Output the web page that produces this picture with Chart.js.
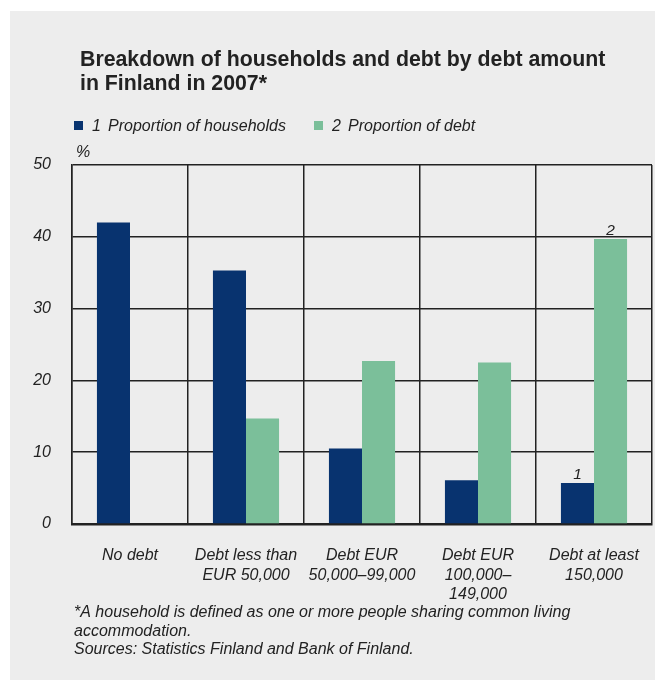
<!DOCTYPE html>
<html>
<head>
<meta charset="utf-8">
<script src="https://cdn.jsdelivr.net/npm/chart.js@4.4.1/dist/chart.umd.min.js"></script>
<style>
  html, body { margin: 0; padding: 0; background: #fff; }
  canvas { display: block; }
</style>
</head>
<body>
<canvas id="debtChart" width="655" height="681"></canvas>
<script>
// 資料
const categories = [
  ["No debt"],
  ["Debt less than", "EUR 50,000"],
  ["Debt EUR", "50,000–99,000"],
  ["Debt EUR", "100,000–", "149,000"],
  ["Debt at least", "150,000"]
];
const households = [42, 35.3, 10.5, 6.1, 5.7];   // 1 Proportion of households
const debtShare = [null, 14.7, 22.7, 22.5, 39.7]; // 2 Proportion of debt
const yTicks = [0, 10, 20, 30, 40, 50];
const titleLines = ["Breakdown of households and debt by debt amount", "in Finland in 2007*"];
const legendLabels = ["Proportion of households", "Proportion of debt"];
const footnotes = [
  "*A household is defined as one or more people sharing common living",
  "accommodation.",
  "Sources: Statistics Finland and Bank of Finland."
];

const BLUE = "#08336f";
const GREEN = "#7bbf9a";
const INK = "#222222";
const FONT = "'Liberation Sans', Arial, Helvetica, sans-serif";

/**
 * 背景、標題、圖例、註腳
 */
const decor = {
  id: "decor",
  beforeDraw(chart) {
    const ctx = chart.ctx;
    ctx.save();
    ctx.fillStyle = "#ffffff";
    ctx.fillRect(0, 0, chart.width, chart.height);
    ctx.fillStyle = "#ededed";
    ctx.fillRect(10, 11, chart.width - 10, 669);
    ctx.restore();
  },
  afterDatasetsDraw(chart) {
    const ctx = chart.ctx;
    ctx.save();
    ctx.fillStyle = INK;
    ctx.font = "italic 15.5px " + FONT;
    ctx.textAlign = "center";
    ctx.textBaseline = "alphabetic";
    const last = categories.length - 1;
    const b1 = chart.getDatasetMeta(0).data[last];
    const b2 = chart.getDatasetMeta(1).data[last];
    ctx.fillText("1", b1.x, b1.y - 4);
    ctx.fillText("2", b2.x, b2.y - 4);
    ctx.restore();
  },
  afterDraw(chart) {
    const ctx = chart.ctx;
    ctx.save();
    ctx.fillStyle = INK;
    ctx.textAlign = "left";
    ctx.textBaseline = "alphabetic";

    ctx.font = "bold 21.3px " + FONT;
    ctx.fillText(titleLines[0], 80, 66);
    ctx.fillText(titleLines[1], 80, 90);

    // 圖例
    ctx.fillStyle = BLUE;
    ctx.fillRect(74, 121, 9, 9);
    ctx.fillStyle = GREEN;
    ctx.fillRect(314, 121, 9, 9);
    ctx.fillStyle = INK;
    ctx.font = "italic 16px " + FONT;
    ctx.fillText("1", 92, 131);
    ctx.fillText(legendLabels[0], 108, 131);
    ctx.fillText("2", 332, 131);
    ctx.fillText(legendLabels[1], 348, 131);

    ctx.fillText("%", 76, 157);

    footnotes.forEach((line, i) => ctx.fillText(line, 74, 617 + i * 18.5));
    ctx.restore();
  }
};

const ctx = document.getElementById("debtChart").getContext("2d");
const chart = new Chart(ctx, {
  type: "bar",
  data: {
    labels: categories,
    datasets: [
      { label: legendLabels[0], data: households, backgroundColor: BLUE },
      { label: legendLabels[1], data: debtShare, backgroundColor: GREEN }
    ]
  },
  options: {
    responsive: false,
    animation: false,
    devicePixelRatio: 1,
    layout: { padding: { top: 165, right: 3, left: 0, bottom: 0 } },
    datasets: { bar: { barPercentage: 1, categoryPercentage: 0.57 } },
    plugins: {
      legend: { display: false },
      title: { display: false },
      tooltip: { enabled: false }
    },
    scales: {
      x: {
        afterFit: s => { s.height = 157; s.paddingLeft = 0; s.paddingRight = 0; },
        grid: { color: INK, lineWidth: 1.5, offset: true, drawTicks: false },
        border: { color: INK, width: 2.5 },
        ticks: {
          color: INK,
          padding: 22,
          font: { family: FONT, size: 16, style: "italic", lineHeight: 1.22 }
        }
      },
      y: {
        min: 0,
        max: 50,
        afterFit: s => { s.width = 72; s.paddingTop = 0; s.paddingBottom = 0; },
        afterBuildTicks: s => { s.ticks = yTicks.map(v => ({ value: v })); },
        grid: { color: INK, lineWidth: 1.5, drawTicks: false },
        border: { color: INK, width: 1.5 },
        ticks: {
          color: INK,
          padding: 21,
          font: { family: FONT, size: 16, style: "italic" }
        }
      }
    }
  },
  plugins: [decor]
});
</script>
</body>
</html>
